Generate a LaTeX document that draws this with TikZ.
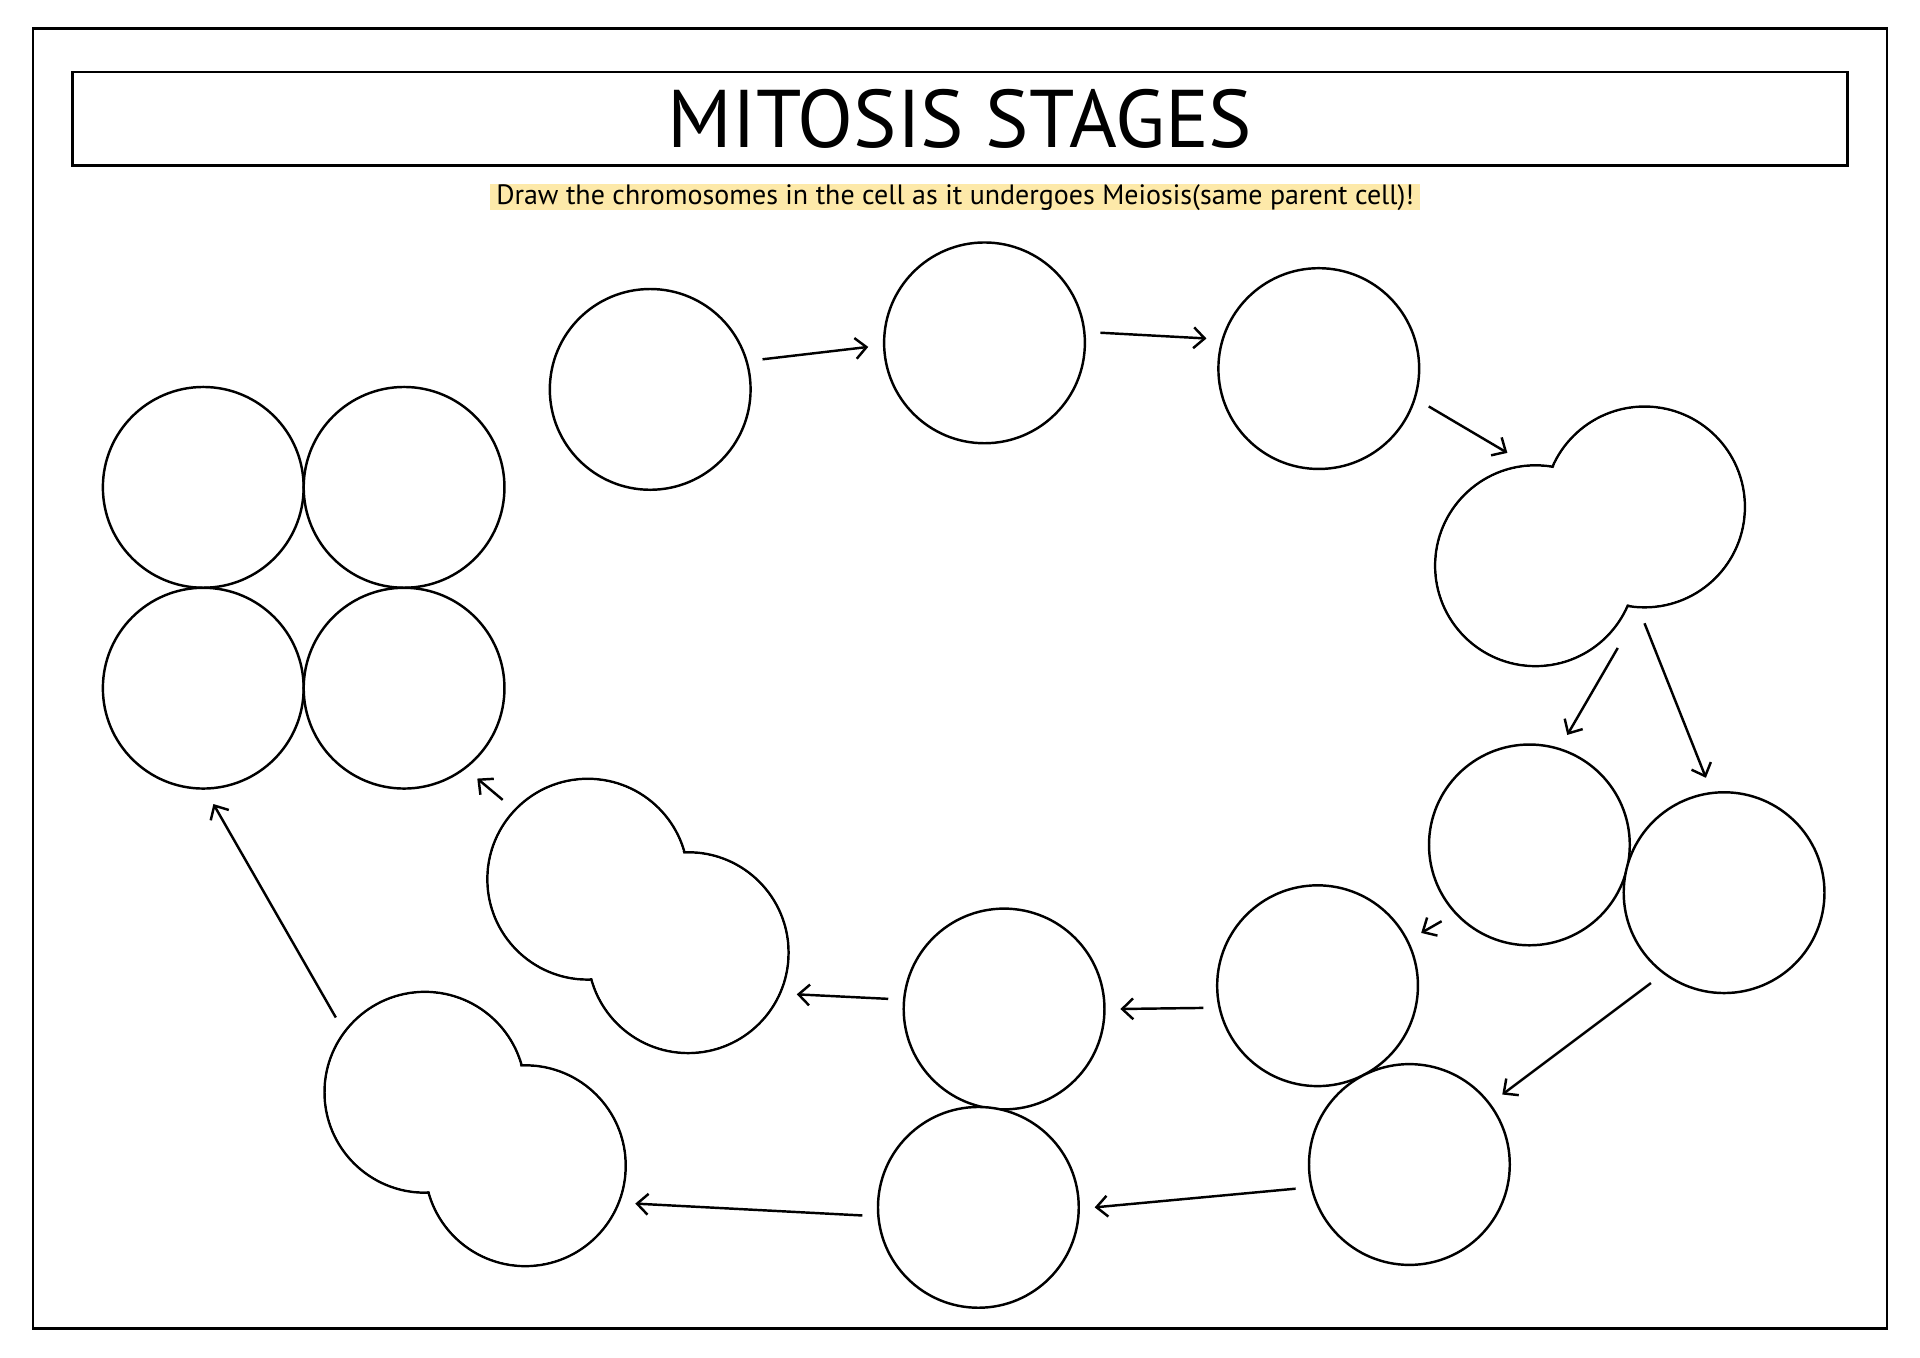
\documentclass[tikz,border=0pt]{standalone}
\usepackage{fontspec}
\usepackage{xcolor}
\usepackage{tikz}
\usetikzlibrary{positioning,calc,arrows.meta}
\setmainfont{PT Sans}
\definecolor{MarkYellow}{RGB}{253,233,169}
\tikzset{
    cell/.style={circle, draw=black, fill=white, line width=0.04cm, minimum size=3.28cm, inner sep=0pt, outer sep=0.26cm},
    arr/.style={-{Straight Barb[length=0.18cm,width=0.34cm]}, line width=0.04cm}
}

\begin{document}
\begin{tikzpicture}[x=0.02cm, y=-0.02cm,
        % Style cho khung
        frame/.style={draw=black, line width=0.045cm},
        % Style cho tieu de
        titlebox/.style={
            draw=black,
            line width=0.04cm,
            minimum width=29cm,
            minimum height=1.52cm,
            font=\fontsize{38}{42}\selectfont
        },
        % Style cho dong huong dan (nen vang)
        hint/.style={
            fill=MarkYellow,
            minimum width=15.2cm,
            minimum height=0.38cm,
            inner sep=0pt,
            font=\fontsize{13}{14}\selectfont
        },
        % Style cho mat na trang (te bao dang phan chia)
        mask/.style={fill=white}
    ]

        % --- 1. KHUNG VA TIEU DE ---
        \useasboundingbox (0,0) rectangle (1568,1109);
        \draw[frame] (27,23) rectangle (1541,1085);

        \node[titlebox] (title) at (784,97) {MITOSIS STAGES};
        \node[hint] (hint) at (780,161) {Draw the chromosomes in the cell as it undergoes Meiosis(same parent cell)!};

        % --- 2. VE TE BAO ---
        % Tọa độ được căn chỉnh thủ công
        \node[cell] (c1) at (531,318) {};
        \node[cell] (c2) at (804,280) {};
        \node[cell] (c3) at (1077,301) {};

        % Te bao dang phan chia (ben phai)
        \node[cell] (c4r) at (1343,414) {};
        \node[cell] (c4l) at (1254,462) {};

        \node[cell] (c5) at (1249,690) {};
        \node[cell] (c6) at (1408,729) {};
        \node[cell] (c7) at (1076,805) {};
        \node[cell] (c8) at (1151,951) {};
        \node[cell] (c9) at (820,824) {};
        \node[cell] (c10) at (799,986) {};

        % Te bao dang phan chia (giua va duoi)
        \node[cell] (c11l) at (480,718) {};
        \node[cell] (c11r) at (562,778) {};
        \node[cell] (c12l) at (347,892) {};
        \node[cell] (c12r) at (429,952) {};

        % Che net ben trong -> chi con duong bao ngoai
        \fill[mask] (c4r.center) circle[radius=1.615cm];
        \fill[mask] (c4l.center) circle[radius=1.615cm];
        \fill[mask] (c11l.center) circle[radius=1.615cm];
        \fill[mask] (c11r.center) circle[radius=1.615cm];
        \fill[mask] (c12l.center) circle[radius=1.615cm];
        \fill[mask] (c12r.center) circle[radius=1.615cm];

        % 4 te bao con
        \node[cell] (q1) at (166,398) {};
        \node[cell] (q2) at (330,398) {};
        \node[cell] (q3) at (166,562) {};
        \node[cell] (q4) at (330,562) {};

        % --- 3. VE MUI TEN ---
        \draw[arr] (c1.15) -- (c2.182);
        \draw[arr] (c2.5) -- (c3.165);
        \draw[arr] (c3.-19) -- (c4l.104);

        \draw[arr] (c4l.-45) -- (c5.71);
        \draw[arr] (c4r.-90) -- (c6.99);

        \draw[arr] (c5.221) -- (c7.27);
        \draw[arr] (c6.231) -- (c8.37);

        \draw[arr] (c7.191) -- (c9.0);
        \draw[arr] (c8.192) -- (c10.0);

        \draw[arr] (c9.175) -- (c11r.-21);
        \draw[arr] (c10.184) -- (c12r.-19);

        \draw[arr] (c11l.137) -- (q4.-51);
        \draw[arr] (c12l.140) -- (q3.-85);

    \end{tikzpicture}
\end{document}
